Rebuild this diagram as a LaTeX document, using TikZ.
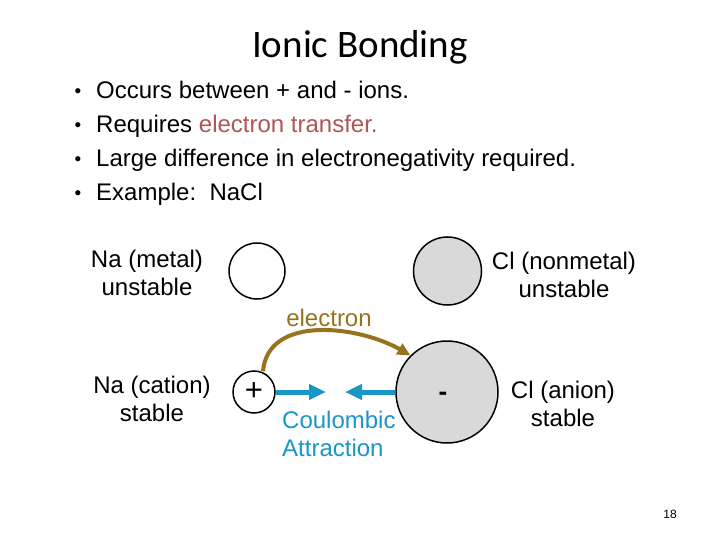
\documentclass[tikz,border=0pt]{standalone}
\usepackage{fontspec}
\setmainfont{Liberation Sans}
\newfontfamily\titlefont{Carlito}
\usetikzlibrary{arrows.meta}
\definecolor{redtxt}{RGB}{175,85,85}
\definecolor{olive}{RGB}{150,115,30}
\definecolor{cblue}{RGB}{25,150,200}
\definecolor{cgray}{RGB}{217,217,217}
\tikzset{
  txt/.style={inner sep=0pt, font=\fontsize{24}{28}\selectfont},
  lbl/.style={txt, align=center},
  bul/.style={txt, anchor=base west},
  atom/.style={circle, draw=black, line width=1.5pt, inner sep=0pt},
  coul/.style={cblue, line width=5pt, -{Triangle[length=17pt,width=15pt]}},
  elec/.style={olive, line width=4pt, -{Triangle[length=13pt,width=12pt]}},
}
\begin{document}
\begin{tikzpicture}[x=1pt,y=-1pt]
\useasboundingbox (0,0) rectangle (720,540);
% title
\node[inner sep=0pt, anchor=base, font=\titlefont\fontsize{39}{44}\selectfont] (title) at (360,58) {Ionic Bonding};
% bullets
\foreach \yy/\nm in {99/b1,133/b2,167/b3,201/b4}{
  \node[inner sep=0pt, anchor=base, font=\fontsize{19}{19}\selectfont] (\nm dot) at (78,\yy-1) {•};
}
\node[bul] (b1) at (96,99) {Occurs between + and - ions.};
\node[bul] (b2) at (96,133) {Requires \textcolor{redtxt}{electron transfer.}};
\node[bul] (b3) at (96,167) {Large difference in electronegativity required.};
\node[bul] (b4) at (96,201) {Example:\ \ NaCl};
% labels
\node[lbl] (nametal) at (147,273) {Na (metal)\\unstable};
\node[lbl] (clnon) at (564,275) {Cl (nonmetal)\\unstable};
\node[lbl] (nacat) at (152,399) {Na (cation)\\stable};
\node[lbl] (clan) at (563,404) {Cl (anion)\\stable};
\node[txt, text=olive] (elabel) at (329,318) {electron};
\node[txt, text=cblue, align=left, anchor=west] (coulabel) at (282,434) {Coulombic\\Attraction};
% atoms
\node[atom, minimum size=56pt] (na) at (257,271) {};
\node[atom, fill=cgray, minimum size=68pt] (cl) at (447.5,271) {};
\node[atom, minimum size=42pt] (naion) at (254,392) {};
\node[txt, font=\fontsize{31}{31}\selectfont] (plus) at (254,392) {+};
\node[atom, fill=cgray, minimum size=102pt] (clion) at (447,392) {};
\node[txt, font=\bfseries\fontsize{26}{26}\selectfont] (minus) at (443,396) {-};
% arrows
\coordinate (tipA) at (326,392);
\coordinate (tipB) at (345,392);
\draw[coul] (naion.east) -- (tipA);
\draw[coul] (clion.west) -- (tipB);
\draw[elec] (naion.north) ++(9,1) coordinate (estart) to[out=85,in=150] (clion.north west);
% page number
\node[inner sep=0pt, font=\fontsize{12}{12}\selectfont] (pg) at (670,514) {18};
\end{tikzpicture}
\end{document}
